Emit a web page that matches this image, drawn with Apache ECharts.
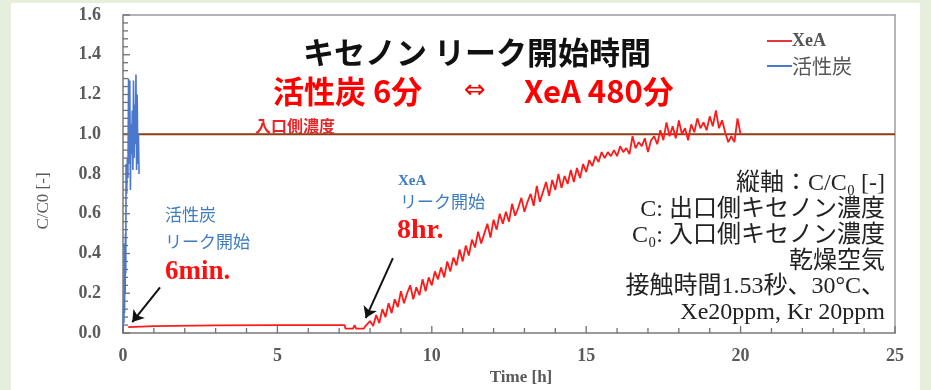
<!DOCTYPE html>
<html>
<head>
<meta charset="utf-8">
<script src="https://cdn.jsdelivr.net/npm/echarts@6/dist/echarts.min.js"></script>
<style>
  html, body { margin: 0; padding: 0; background: #e6efdc; }
  #panel { position: absolute; left: 11px; top: 3px; width: 909px; height: 387px; background: #ffffff; }
  #chart { position: absolute; left: 0; top: 0; width: 931px; height: 390px; }
</style>
</head>
<body>
<div id="panel"></div>
<div id="chart"></div>
<script>
// Breakthrough curve of xenon: outlet/inlet concentration ratio over time
const xeaTime = [0.17, 1.0, 3.0, 5.0, 7.18, 7.2, 7.45, 7.5, 7.55, 7.8, 7.85,
  7.9, 8.0, 8.1, 8.2, 8.3, 8.4, 8.5, 8.6, 8.7, 8.8, 8.9,
  9.0, 9.1, 9.2, 9.3, 9.4, 9.5, 9.6, 9.7, 9.8, 9.9,
  10.0, 10.1, 10.2, 10.3, 10.4, 10.5, 10.6, 10.7, 10.8, 10.9,
  11.0, 11.1, 11.2, 11.3, 11.4, 11.5, 11.6, 11.7, 11.8, 11.9,
  12.0, 12.1, 12.2, 12.3, 12.4, 12.5, 12.6, 12.7, 12.8, 12.9,
  13.0, 13.1, 13.2, 13.3, 13.4, 13.5, 13.6, 13.7, 13.8, 13.9,
  14.0, 14.1, 14.2, 14.3, 14.4, 14.5, 14.6, 14.7, 14.8, 14.9,
  15.0, 15.1, 15.2, 15.3, 15.4, 15.5, 15.6, 15.7, 15.8, 15.9,
  16.0, 16.1, 16.2, 16.3, 16.4, 16.5, 16.6, 16.7, 16.8, 16.9,
  17.0, 17.1, 17.2, 17.3, 17.4, 17.5, 17.6, 17.7, 17.8, 17.9,
  18.0, 18.1, 18.2, 18.3, 18.4, 18.5, 18.6, 18.7, 18.8, 18.9,
  19.0, 19.1, 19.2, 19.3, 19.4, 19.5, 19.6, 19.7, 19.8, 19.9, 20.0];
const xeaValue = [0.030, 0.035, 0.038, 0.040, 0.040, 0.022, 0.022, 0.040, 0.022, 0.022, 0.035,
  0.025, 0.06, 0.035, 0.09, 0.05, 0.12, 0.08, 0.15, 0.10, 0.17, 0.13,
  0.21, 0.15, 0.20, 0.24, 0.17, 0.23, 0.19, 0.27, 0.21, 0.28,
  0.24, 0.31, 0.27, 0.33, 0.28, 0.36, 0.31, 0.38, 0.34, 0.42,
  0.36, 0.44, 0.39, 0.47, 0.43, 0.51, 0.45, 0.50, 0.55, 0.48,
  0.57, 0.52, 0.60, 0.55, 0.61, 0.56, 0.65, 0.59, 0.63, 0.68,
  0.61, 0.66, 0.70, 0.64, 0.74, 0.66, 0.71, 0.76, 0.69, 0.77,
  0.72, 0.80, 0.73, 0.79, 0.75, 0.82, 0.76, 0.83, 0.78, 0.85,
  0.81, 0.87, 0.84, 0.89, 0.86, 0.91, 0.88, 0.91, 0.89, 0.92,
  0.89, 0.94, 0.91, 0.93, 0.90, 0.99, 0.93, 0.96, 0.94, 0.98,
  0.91, 0.97, 0.99, 0.95, 1.02, 0.97, 1.06, 0.99, 1.04, 0.98,
  1.07, 1.00, 1.03, 0.97, 1.05, 1.01, 1.08, 1.03, 1.06, 1.02,
  1.09, 1.04, 1.12, 1.03, 1.07, 1.01, 0.96, 0.99, 0.96, 1.08, 1.00];

const carbonTime = [0.00, 0.02, 0.03, 0.04, 0.05, 0.06, 0.07, 0.08, 0.09, 0.10, 0.12, 0.14, 0.16, 0.18, 0.20,
  0.22, 0.24, 0.26, 0.28, 0.30, 0.32, 0.34, 0.36, 0.38, 0.40, 0.42, 0.44, 0.46, 0.48, 0.50, 0.52];
const carbonValue = [0.00, 0.15, 0.05, 0.45, 0.10, 0.30, 0.20, 0.50, 0.30, 0.85, 0.70, 0.88, 0.78, 1.28, 0.85,
  1.27, 0.72, 1.05, 0.90, 1.12, 0.82, 1.27, 0.88, 1.15, 0.95, 1.30, 0.82, 1.20, 0.85, 1.00, 0.80];

const inletTime = [0, 25];
const inletValue = [1.0, 1.0];

// Axis ranges: major steps carry labels, minor steps get short inward ticks
const xRange = { min: 0, max: 25, major: 5, minor: 1 };
const yRange = { min: 0, max: 1.6, major: 0.2, minor: 0.04 };

const notes = [
  '縦軸：C/C₀ [-]',
  'C: 出口側キセノン濃度',
  'C₀: 入口側キセノン濃度',
  '乾燥空気',
  '接触時間1.53秒、30°C、',
  'Xe20ppm, Kr 20ppm'
];

const zip = (a, b) => a.map((v, i) => [v, b[i]]);

function tickValues(r) {
  const out = [];
  const n = Math.round((r.max - r.min) / r.minor);
  for (let i = 0; i <= n; i++) {
    const v = +(r.min + i * r.minor).toFixed(6);
    const ratio = v / r.major;
    out.push([v, Math.abs(ratio - Math.round(ratio)) < 1e-6 ? 1 : 0]);
  }
  return out;
}

const serif = '"Liberation Serif", "Noto Sans CJK JP", serif';
const gothic = '"Noto Sans CJK JP", sans-serif';

const chart = echarts.init(document.getElementById('chart'));

const tickColor = '#707070';
const frameColor = '#9c9c9c';

function txt(x, y, text, font, fill, align, extra) {
  return Object.assign({
    type: 'text', x: x, y: y,
    style: { text: text, font: font, fill: fill, textAlign: align, textVerticalAlign: 'middle', align: align, verticalAlign: 'middle' }
  }, extra || {});
}

const noteY = [184, 210, 236, 262, 287, 313];
const graphics = [
  txt(477, 52, 'キセノン リーク開始時間', 'bold 31px "Noto Sans CJK JP"', '#111', 'center'),
  txt(273, 91, '活性炭 6分', 'bold 31px "Noto Sans CJK JP"', '#ff0000', 'left'),
  txt(475, 91, '⇔', '26px "DejaVu Sans"', '#ff0000', 'center'),
  txt(524, 91, 'XeA 480分', 'bold 31px "Noto Sans CJK JP"', '#ff0000', 'left'),
  txt(255, 126, '入口側濃度', 'bold 16px "Noto Sans CJK JP"', '#e8262a', 'left'),
  txt(165, 215, '活性炭', '17px "Noto Sans CJK JP"', '#3d7cc4', 'left'),
  txt(165, 242, 'リーク開始', '17px "Noto Sans CJK JP"', '#3d7cc4', 'left'),
  txt(165, 272, '6min.', 'bold 27px "Liberation Serif"', '#ff1010', 'left'),
  txt(398, 181, 'XeA', 'bold 15px "Liberation Serif"', '#3d7cc4', 'left'),
  txt(400, 202, 'リーク開始', '17px "Noto Sans CJK JP"', '#3d7cc4', 'left'),
  txt(397, 231, '8hr.', 'bold 28px "Liberation Serif"', '#ff1010', 'left'),
  txt(521, 378, 'Time [h]', 'bold 17px "Liberation Serif"', '#5a5a5a', 'center'),
  txt(44, 201, 'C/C0 [-]', '17px "Liberation Serif"', '#5a5a5a', 'center', { rotation: Math.PI / 2 })
];
notes.forEach((t, i) => {
  graphics.push(txt(885, noteY[i], t, '24px "Liberation Serif", "Noto Sans CJK JP"', '#222', 'right'));
});

// Frame edges on the top and right, as plain axes with only a line
const frameAxis = { type: 'value', axisLine: { show: true, onZero: false, lineStyle: { color: frameColor, width: 1.5 } },
  axisTick: { show: false }, minorTick: { show: false }, axisLabel: { show: false }, splitLine: { show: false } };

// Inward tick marks placed through the axis scales
function tickSeries(range, horizontal) {
  return {
    type: 'custom', silent: true, z: 6, clip: false,
    data: tickValues(range),
    renderItem: (params, api) => {
      const v = api.value(0);
      const len = api.value(1) ? 7 : 5;
      const p = horizontal ? api.coord([v, yRange.min]) : api.coord([xRange.min, v]);
      const q = horizontal ? [p[0], p[1] - len] : [p[0] + len, p[1]];
      return {
        type: 'line',
        shape: { x1: p[0], y1: p[1], x2: q[0], y2: q[1] },
        style: { stroke: tickColor, lineWidth: 1.3 }
      };
    }
  };
}

chart.setOption({
  animation: false,
  grid: { left: 123, right: 36, top: 15, bottom: 57 },
  legend: {
    orient: 'vertical', left: 762, top: 27, itemWidth: 25, itemHeight: 2, itemGap: 6,
    data: [{ name: 'XeA', icon: 'rect' }, { name: '活性炭', icon: 'rect' }],
    formatter: n => n === 'XeA' ? '{a|XeA}' : '{b|活性炭}',
    textStyle: {
      padding: [0, 0, 0, -5],
      rich: {
        a: { fontFamily: serif, fontWeight: 'bold', fontSize: 18, color: '#555', height: 22 },
        b: { fontFamily: gothic, fontSize: 20, color: '#555', height: 22 }
      }
    }
  },
  xAxis: [
    {
      type: 'value', min: xRange.min, max: xRange.max, interval: xRange.major, position: 'bottom',
      axisLine: { show: true, onZero: false, lineStyle: { color: '#7a7a7a', width: 1.5 } },
      axisTick: { show: false }, minorTick: { show: false },
      splitLine: { show: false },
      axisLabel: { margin: 14, fontFamily: serif, fontWeight: 'bold', fontSize: 18, color: '#5a5a5a' }
    },
    Object.assign({ min: xRange.min, max: xRange.max, position: 'top' }, frameAxis)
  ],
  yAxis: [
    {
      type: 'value', min: yRange.min, max: yRange.max, interval: yRange.major, position: 'left',
      axisLine: { show: true, onZero: false, lineStyle: { color: '#7a7a7a', width: 1.5 } },
      axisTick: { show: false }, minorTick: { show: false },
      splitLine: { show: false },
      axisLabel: { margin: 22, fontFamily: serif, fontWeight: 'bold', fontSize: 18, color: '#5a5a5a', formatter: v => v.toFixed(1) }
    },
    Object.assign({ min: yRange.min, max: yRange.max, position: 'right' }, frameAxis)
  ],
  series: [
    tickSeries(xRange, true),
    tickSeries(yRange, false),
    {
      name: 'inlet', type: 'line', data: zip(inletTime, inletValue), showSymbol: false, silent: true,
      lineStyle: { color: '#8e3d18', width: 2 }, z: 1
    },
    {
      name: '活性炭', type: 'line', data: zip(carbonTime, carbonValue), showSymbol: false,
      lineStyle: { color: '#4a78cf', width: 1.6 }, itemStyle: { color: '#4a78cf' }, z: 2
    },
    {
      name: 'XeA', type: 'line', data: zip(xeaTime, xeaValue), showSymbol: false,
      lineStyle: { color: '#ff1a1a', width: 1.8 }, itemStyle: { color: '#e8343a' }, z: 3,
      markLine: {
        silent: true, symbol: ['none', 'arrow'], symbolSize: 11,
        lineStyle: { color: '#111', width: 2, type: 'solid' }, label: { show: false },
        emphasis: { disabled: true },
        data: [
          [{ coord: [1.2, 0.23], symbol: 'none' }, { coord: [0.3, 0.055], symbol: 'arrow' }],
          [{ coord: [8.74, 0.377], symbol: 'none' }, { coord: [7.86, 0.075], symbol: 'arrow' }]
        ]
      }
    }
  ],
  graphic: graphics
});
</script>
</body>
</html>
